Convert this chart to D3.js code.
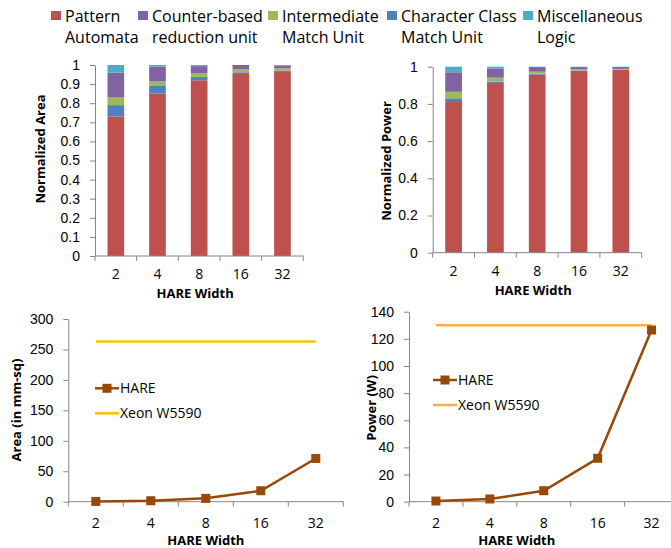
<!DOCTYPE html>
<html>
<head>
<meta charset="utf-8">
<script src="https://cdn.jsdelivr.net/npm/d3@7"></script>
<style>
  body { margin: 0; background: #fff; }
  svg { display: block; font-family: "Open Sans", sans-serif; }
  .axis path, .axis line { stroke: #868686; }
  .axis text { font-size: 14px; fill: #000; }
  .title { font-size: 13px; font-weight: bold; fill: #000; }
</style>
</head>
<body>
<div id="chart"></div>
<script>
// categories and series
const widths = ["2", "4", "8", "16", "32"];
const components = ["pa", "cc", "imu", "cru", "misc"]; // stack order, bottom to top
const componentColors = { pa: "#C0504D", cru: "#8064A2", imu: "#9BBB59", cc: "#4F81BD", misc: "#4BACC6" };
const legendOrder = ["pa", "cru", "imu", "cc", "misc"];
const legendLines = {
  pa: ["Pattern", "Automata"],
  cru: ["Counter-based", "reduction unit"],
  imu: ["Intermediate", "Match Unit"],
  cc: ["Character Class", "Match Unit"],
  misc: ["Miscellaneous", "Logic"]
};

// normalized area breakdown
const areaPA   = [0.73, 0.85, 0.92, 0.953, 0.968];
const areaCC   = [0.06, 0.04, 0.018, 0.009, 0.003];
const areaIMU  = [0.04, 0.026, 0.02, 0.017, 0.012];
const areaCRU  = [0.13, 0.075, 0.036, 0.021, 0.015];
const areaMisc = [0.04, 0.009, 0.006, 0.0, 0.002];

// normalized power breakdown
const powerPA   = [0.81, 0.907, 0.958, 0.977, 0.983];
const powerCC   = [0.02, 0.012, 0.004, 0.002, 0.001];
const powerIMU  = [0.035, 0.022, 0.011, 0.008, 0.004];
const powerCRU  = [0.105, 0.05, 0.025, 0.011, 0.01];
const powerMisc = [0.03, 0.009, 0.002, 0.002, 0.002];

// absolute area / power
const hareArea = [0.5, 1.6, 5.5, 18, 71];
const xeonArea = 263;
const harePower = [0.5, 2, 8.1, 32, 126.5];
const xeonPower = 130;

const areaTicks = [0, 0.1, 0.2, 0.3, 0.4, 0.5, 0.6, 0.7, 0.8, 0.9, 1];
const powerTicks = [0, 0.2, 0.4, 0.6, 0.8, 1];
const areaAbsTicks = [0, 50, 100, 150, 200, 250, 300];
const powerAbsTicks = [0, 20, 40, 60, 80, 100, 120, 140];

// legend layout (x of each square)
const legendX = [51, 138, 268, 387, 523];

const svg = d3.select("#chart").append("svg")
    .attr("width", 671)
    .attr("height", 548);

// legend on top
const legend = svg.append("g");
legendOrder.forEach((key, i) => {
  const g = legend.append("g").attr("transform", `translate(${legendX[i]},0)`);
  g.append("rect").attr("x", 0).attr("y", 11).attr("width", 10).attr("height", 9)
    .attr("fill", componentColors[key]);
  g.append("text")
      .attr("x", 14).attr("y", 22)
      .style("font-size", "16px").attr("fill", "#000")
    .selectAll("tspan")
    .data(legendLines[key])
    .join("tspan")
      .attr("x", 14)
      .attr("dy", (d, j) => j === 0 ? 0 : 21)
      .text(d => d);
});

function fmt(d) { return String(+d.toFixed(1)); }

function stackedChart(opt) {
  const rows = widths.map((w, i) => {
    const r = { w };
    components.forEach(k => { r[k] = opt.values[k][i]; });
    return r;
  });
  const stack = d3.stack().keys(components)(rows);

  const x = d3.scaleBand().domain(widths).range([opt.x0, opt.x1]).padding(0);
  const y = d3.scaleLinear().domain([0, 1]).range([opt.y0, opt.y1]);
  const g = svg.append("g");

  g.append("g").selectAll("g")
    .data(stack)
    .join("g")
      .attr("fill", d => componentColors[d.key])
    .selectAll("rect")
    .data(d => d)
    .join("rect")
      .attr("x", d => x(d.data.w) + x.bandwidth() * 0.3)
      .attr("width", x.bandwidth() * 0.4)
      .attr("y", d => y(d[1]))
      .attr("height", d => Math.max(0, y(d[0]) - y(d[1])));

  g.append("g").attr("class", "axis")
      .attr("transform", `translate(${opt.x0},0)`)
      .call(d3.axisLeft(y).tickValues(opt.ticks).tickFormat(fmt).tickSize(5).tickPadding(10).tickSizeOuter(0));

  // x axis: ticks on band boundaries, labels at band centres
  const xAxis = g.append("g").attr("class", "axis");
  xAxis.append("line").attr("x1", opt.x0).attr("x2", opt.x1).attr("y1", opt.y0).attr("y2", opt.y0);
  xAxis.selectAll(".tk").data(widths.concat(["end"]))
    .join("line").attr("class", "tk")
      .attr("x1", (d, i) => opt.x0 + i * x.step()).attr("x2", (d, i) => opt.x0 + i * x.step())
      .attr("y1", opt.y0).attr("y2", opt.y0 + 5);
  xAxis.selectAll("text").data(widths)
    .join("text")
      .attr("x", d => x(d) + x.bandwidth() / 2)
      .attr("y", opt.y0 + 23)
      .attr("text-anchor", "middle")
      .text(d => d);

  g.append("text").attr("class", "title")
      .attr("x", (opt.x0 + opt.x1) / 2 + opt.titleDx).attr("y", opt.y0 + 42)
      .attr("text-anchor", "middle").text("HARE Width");
  g.append("text").attr("class", "title")
      .attr("transform", `translate(${opt.ytX},${opt.ytY}) rotate(-90)`)
      .attr("text-anchor", "middle").text(opt.yTitle);
}

stackedChart({
  values: { pa: areaPA, cc: areaCC, imu: areaIMU, cru: areaCRU, misc: areaMisc },
  x0: 95, x1: 303.3, y0: 256, y1: 65, ticks: areaTicks,
  yTitle: "Normalized Area", ytX: 45, ytY: 149, titleDx: -4
});

stackedChart({
  values: { pa: powerPA, cc: powerCC, imu: powerIMU, cru: powerCRU, misc: powerMisc },
  x0: 432.7, x1: 641.7, y0: 252.7, y1: 66.7, ticks: powerTicks,
  yTitle: "Normalized Power", ytX: 391, ytY: 161, titleDx: -4
});

function lineChart(opt) {
  const x = d3.scaleBand().domain(widths).range([opt.x0, opt.x1]).padding(0);
  const y = d3.scaleLinear().domain([0, opt.max]).range([opt.y0, opt.y1]);
  const cx = d => x(d) + x.bandwidth() / 2;
  const g = svg.append("g");

  g.append("g").attr("class", "axis")
      .attr("transform", `translate(${opt.x0},0)`)
      .call(d3.axisLeft(y).tickValues(opt.ticks).tickSize(5).tickPadding(10).tickSizeOuter(0));

  const xAxis = g.append("g").attr("class", "axis");
  xAxis.append("line").attr("x1", opt.x0).attr("x2", opt.x1).attr("y1", opt.y0).attr("y2", opt.y0);
  xAxis.selectAll(".tk").data(widths.concat(["end"]))
    .join("line").attr("class", "tk")
      .attr("x1", (d, i) => opt.x0 + i * x.step()).attr("x2", (d, i) => opt.x0 + i * x.step())
      .attr("y1", opt.y0).attr("y2", opt.y0 + 5);
  xAxis.selectAll("text").data(widths)
    .join("text")
      .attr("x", d => cx(d))
      .attr("y", opt.y0 + 26)
      .attr("text-anchor", "middle")
      .text(d => d);

  // reference processor
  g.append("line")
      .attr("x1", cx(widths[0])).attr("x2", cx(widths[widths.length - 1]))
      .attr("y1", y(opt.xeon)).attr("y2", y(opt.xeon))
      .attr("stroke", opt.xeonColor).attr("stroke-width", 2.5);

  const line = d3.line().x((d, i) => cx(widths[i])).y(d => y(d));
  g.append("path").datum(opt.hare)
      .attr("fill", "none").attr("stroke", "#984807").attr("stroke-width", 2.5)
      .attr("d", line);
  g.selectAll(".mk").data(opt.hare)
    .join("rect").attr("class", "mk")
      .attr("x", (d, i) => cx(widths[i]) - 4.5).attr("y", d => y(d) - 4.5)
      .attr("width", 9).attr("height", 9)
      .attr("fill", "#984807");

  // legend
  const lg = g.append("g").attr("transform", `translate(${opt.lgX},${opt.lgY})`);
  lg.append("line").attr("x1", 0).attr("x2", 24).attr("y1", 0).attr("y2", 0)
    .attr("stroke", "#984807").attr("stroke-width", 2.5);
  lg.append("rect").attr("x", 7.5).attr("y", -4.5).attr("width", 9).attr("height", 9).attr("fill", "#984807");
  lg.append("text").attr("x", 25).attr("y", 5).style("font-size", "14px").text("HARE");
  lg.append("line").attr("x1", 0).attr("x2", 24).attr("y1", 25).attr("y2", 25)
    .attr("stroke", opt.xeonColor).attr("stroke-width", 2.5);
  lg.append("text").attr("x", 25).attr("y", 30).style("font-size", "14px").text("Xeon W5590");

  g.append("text").attr("class", "title")
      .attr("x", (opt.x0 + opt.x1) / 2 + opt.titleDx).attr("y", opt.y0 + 43)
      .attr("text-anchor", "middle").text("HARE Width");
  g.append("text").attr("class", "title")
      .attr("transform", `translate(${opt.ytX},${opt.ytY}) rotate(-90)`)
      .attr("text-anchor", "middle").text(opt.yTitle);
}

lineChart({
  hare: hareArea, xeon: xeonArea, xeonColor: "#FFC000", max: 300, ticks: areaAbsTicks,
  x0: 68.3, x1: 343.3, y0: 501.7, y1: 319,
  lgX: 95, lgY: 388.3, yTitle: "Area (in mm-sq)", ytX: 21, ytY: 410, titleDx: 0
});

lineChart({
  hare: harePower, xeon: xeonPower, xeonColor: "#FAAE4A", max: 140, ticks: powerAbsTicks,
  x0: 409, x1: 678.5, y0: 501.7, y1: 311.7,
  lgX: 433, lgY: 380, yTitle: "Power (W)", ytX: 376, ytY: 408, titleDx: -27
});
</script>
</body>
</html>
